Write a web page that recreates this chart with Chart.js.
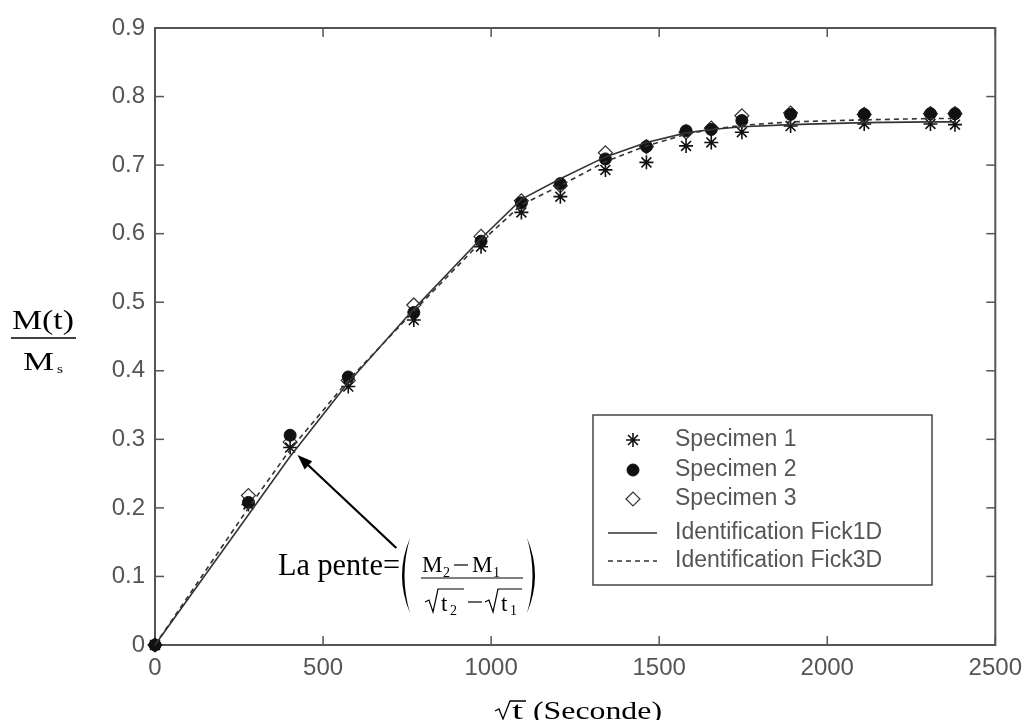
<!DOCTYPE html>
<html><head><meta charset="utf-8">
<script src="https://cdn.jsdelivr.net/npm/chart.js@4.4.1/dist/chart.umd.min.js"></script>
<style>html,body{margin:0;padding:0;background:#fff;overflow:hidden}#wrap{width:1031px;height:720px}</style>
</head><body><div id="wrap"><canvas id="c" width="1031" height="720"></canvas></div>
<script>
// ---- data ----
const sqrtTime  = [0, 278, 402, 575, 770, 970, 1090, 1206, 1340, 1462, 1580, 1655, 1746, 1891, 2110, 2307, 2380];
const specimen1 = [0, 0.205, 0.288, 0.377, 0.474, 0.581, 0.631, 0.654, 0.693, 0.704, 0.728, 0.733, 0.748, 0.757, 0.760, 0.760, 0.759];
const specimen2 = [0, 0.208, 0.306, 0.391, 0.485, 0.589, 0.645, 0.673, 0.709, 0.727, 0.750, 0.752, 0.765, 0.774, 0.774, 0.775, 0.775];
const specimen3 = [0, 0.218, 0.296, 0.386, 0.496, 0.596, 0.648, 0.670, 0.718, 0.727, 0.748, 0.754, 0.772, 0.776, 0.774, 0.775, 0.775];
const fick1D    = [0, 0.190, 0.275, 0.383, 0.490, 0.593, 0.650, 0.680, 0.712, 0.733, 0.747, 0.752, 0.756, 0.759, 0.762, 0.763, 0.763];
const fick3D    = [0, 0.200, 0.285, 0.386, 0.487, 0.588, 0.642, 0.670, 0.705, 0.728, 0.745, 0.752, 0.758, 0.763, 0.766, 0.768, 0.768];
const xTicks = [0, 500, 1000, 1500, 2000, 2500];
const yTicks = [0, 0.1, 0.2, 0.3, 0.4, 0.5, 0.6, 0.7, 0.8, 0.9];
const seriesNames = ['Specimen 1', 'Specimen 2', 'Specimen 3', 'Identification Fick1D', 'Identification Fick3D'];

const pts = arr => sqrtTime.map((x, i) => ({x, y: arr[i]}));
const SANS = '"Liberation Sans", Arial, sans-serif';
const SERIF = '"Liberation Serif", "Times New Roman", serif';

function txt(ctx, s, x, y, font, w) {
  ctx.save(); ctx.font = font; ctx.textAlign = 'left'; ctx.textBaseline = 'alphabetic';
  const m = ctx.measureText(s).width; const k = w ? w / m : 1;
  ctx.translate(x, y); ctx.scale(k, 1); ctx.fillText(s, 0, 0); ctx.restore();
}
function seg(ctx, pts) { ctx.beginPath(); ctx.moveTo(pts[0][0], pts[0][1]); for (let i = 1; i < pts.length; i++) ctx.lineTo(pts[i][0], pts[i][1]); ctx.stroke(); }

const decor = {
  id: 'decor',
  beforeDatasetsDraw(chart) {
    const {ctx, chartArea: a, scales: {x, y}} = chart;
    ctx.save();
    ctx.strokeStyle = '#555'; ctx.lineWidth = 2;
    ctx.strokeRect(a.left, a.top, a.right - a.left, a.bottom - a.top);
    ctx.lineWidth = 1.5; ctx.strokeStyle = '#555';
    const tl = 9;
    x.ticks.forEach(t => { const p = x.getPixelForValue(t.value);
      seg(ctx, [[p, a.bottom], [p, a.bottom - tl]]); seg(ctx, [[p, a.top], [p, a.top + tl]]); });
    y.ticks.forEach(t => { const p = y.getPixelForValue(t.value);
      seg(ctx, [[a.left, p], [a.left + tl, p]]); seg(ctx, [[a.right, p], [a.right - tl, p]]); });
    ctx.restore();
  },
  afterDraw(chart) {
    const {ctx, scales: {x, y}} = chart;
    ctx.save();
    // ---- legend ----
    const L = {l: 593, t: 415, r: 932, b: 585};
    ctx.fillStyle = '#fff'; ctx.fillRect(L.l, L.t, L.r - L.l, L.b - L.t);
    ctx.strokeStyle = '#444'; ctx.lineWidth = 1.5; ctx.strokeRect(L.l, L.t, L.r - L.l, L.b - L.t);
    const rows = [440, 470, 499, 533, 561];
    chart.data.datasets.forEach((ds, i) => {
      const ry = rows[i];
      if (ds.showLine) {
        ctx.strokeStyle = ds.borderColor; ctx.lineWidth = ds.borderWidth;
        ctx.setLineDash(ds.borderDash || []);
        seg(ctx, [[608, ry], [657, ry]]); ctx.setLineDash([]);
      } else {
        ctx.strokeStyle = ds.pointBorderColor; ctx.fillStyle = ds.pointBackgroundColor;
        ctx.lineWidth = ds.pointBorderWidth;
        Chart.helpers.drawPoint(ctx, {pointStyle: ds.pointStyle, radius: ds.pointRadius, borderWidth: ds.pointBorderWidth, rotation: 0}, 633, ry);
      }
      ctx.fillStyle = '#555'; ctx.font = '23px ' + SANS; ctx.textBaseline = 'middle'; ctx.textAlign = 'left';
      ctx.fillText(ds.label, 675, ry);
    });
    // ---- y-axis title (fraction) ----
    ctx.fillStyle = '#000'; ctx.strokeStyle = '#000';
    txt(ctx, 'M(t)', 12, 329, '27px ' + SERIF, 62);
    ctx.lineWidth = 1.5; seg(ctx, [[11, 338], [76, 338]]);
    txt(ctx, 'M', 23, 370, '26px ' + SERIF, 31);
    txt(ctx, 's', 57, 373, '13px ' + SERIF, 6);
    // ---- x-axis title ----
    ctx.lineWidth = 1.3;
    seg(ctx, [[495, 711], [499, 709], [503, 719], [510, 701], [526, 701]]);
    txt(ctx, 't', 512, 719, '26px ' + SERIF, 11);
    txt(ctx, '(Seconde)', 533, 719, '26px ' + SERIF, 129);
    // ---- annotation arrow ----
    const x0 = x.getPixelForValue(718), y0 = y.getPixelForValue(0.1415);
    const x1 = x.getPixelForValue(424), y1 = y.getPixelForValue(0.277);
    const ang = Math.atan2(y1 - y0, x1 - x0);
    ctx.lineWidth = 2.2; ctx.strokeStyle = '#000';
    seg(ctx, [[x0, y0], [x1 - 10 * Math.cos(ang), y1 - 10 * Math.sin(ang)]]);
    ctx.beginPath(); ctx.moveTo(x1, y1);
    ctx.lineTo(x1 - 15 * Math.cos(ang) + 5.5 * Math.sin(ang), y1 - 15 * Math.sin(ang) - 5.5 * Math.cos(ang));
    ctx.lineTo(x1 - 15 * Math.cos(ang) - 5.5 * Math.sin(ang), y1 - 15 * Math.sin(ang) + 5.5 * Math.cos(ang));
    ctx.closePath(); ctx.fillStyle = '#000'; ctx.fill();
    // ---- annotation text ----
    txt(ctx, 'La pente=', 278, 575, '31px ' + SERIF, 122);
    ctx.beginPath(); ctx.moveTo(410, 538); ctx.quadraticCurveTo(394, 575.5, 410, 613);
    ctx.quadraticCurveTo(399, 575.5, 410, 538); ctx.fill();
    ctx.beginPath(); ctx.moveTo(527, 538); ctx.quadraticCurveTo(543, 575.5, 527, 613);
    ctx.quadraticCurveTo(538, 575.5, 527, 538); ctx.fill();
    txt(ctx, 'M', 422, 572, '23px ' + SERIF);
    txt(ctx, '2', 443, 577, '14px ' + SERIF);
    ctx.lineWidth = 1.2; seg(ctx, [[454, 565], [468, 565]]);
    txt(ctx, 'M', 472, 572, '23px ' + SERIF);
    txt(ctx, '1', 493, 577, '14px ' + SERIF);
    seg(ctx, [[421, 578], [523, 578]]);
    ctx.lineWidth = 1.2;
    seg(ctx, [[425, 602], [429, 600], [433, 612], [438, 589], [464, 589]]);
    txt(ctx, 't', 441, 611, '23px ' + SERIF);
    txt(ctx, '2', 450, 615, '14px ' + SERIF);
    seg(ctx, [[468, 602], [482, 602]]);
    seg(ctx, [[485, 602], [489, 600], [493, 612], [498, 589], [522, 589]]);
    txt(ctx, 't', 501, 611, '23px ' + SERIF);
    txt(ctx, '1', 510, 615, '14px ' + SERIF);
    ctx.restore();
  }
};

new Chart(document.getElementById('c'), {
  type: 'scatter',
  data: {
    datasets: [
      {label: seriesNames[0], data: pts(specimen1), pointStyle: 'star', pointRadius: 7, pointBorderWidth: 1.6,
       pointBorderColor: '#111', pointBackgroundColor: '#111', showLine: false, clip: false, order: 3},
      {label: seriesNames[1], data: pts(specimen2), pointStyle: 'circle', pointRadius: 6, pointBorderWidth: 1,
       pointBorderColor: '#111', pointBackgroundColor: '#111', showLine: false, clip: false, order: 4},
      {label: seriesNames[2], data: pts(specimen3), pointStyle: 'rectRot', pointRadius: 7, pointBorderWidth: 1.2,
       pointBorderColor: '#333', pointBackgroundColor: 'rgba(0,0,0,0)', showLine: false, clip: false, order: 5},
      {label: seriesNames[3], data: pts(fick1D), showLine: true, borderColor: '#333', borderWidth: 1.6,
       pointRadius: 0, fill: false, tension: 0, clip: false, order: 1},
      {label: seriesNames[4], data: pts(fick3D), showLine: true, borderColor: '#333', borderWidth: 1.6,
       borderDash: [5, 4], pointRadius: 0, fill: false, tension: 0, clip: false, order: 2}
    ]
  },
  options: {
    responsive: false, animation: false, devicePixelRatio: 1,
    layout: {padding: {top: 28, right: 33, left: 0, bottom: 0}},
    plugins: {legend: {display: false}, tooltip: {enabled: false}, title: {display: false}},
    scales: {
      x: {type: 'linear', min: 0, max: 2500,
          afterBuildTicks: s => { s.ticks = xTicks.map(v => ({value: v})); },
          afterFit: s => { s.height = 75; },
          grid: {display: false, drawTicks: false}, border: {display: false},
          ticks: {color: '#555', font: {family: SANS, size: 24}, padding: 9, maxRotation: 0,
                  callback: v => String(v)}},
      y: {type: 'linear', min: 0, max: 0.9,
          afterBuildTicks: s => { s.ticks = yTicks.map(v => ({value: v})); },
          afterFit: s => { s.width = 155; },
          grid: {display: false, drawTicks: false}, border: {display: false},
          ticks: {color: '#555', font: {family: SANS, size: 24}, padding: 10,
                  callback: v => v === 0 ? '0' : v.toFixed(1)}}
    }
  },
  plugins: [decor]
});
</script></body></html>
